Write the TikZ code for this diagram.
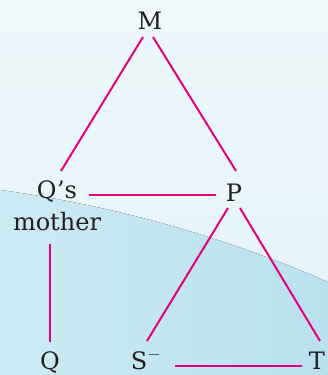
\documentclass[tikz,border=0pt]{standalone}
\usepackage{fontspec}
\setmainfont{DejaVu Serif}
\usepackage{tikz}
\usetikzlibrary{positioning}
\definecolor{LinkPink}{HTML}{E5007D}
\definecolor{BgTop}{HTML}{EEF8FB}
\definecolor{BgTopB}{HTML}{E3F2F8}
\definecolor{BgLow}{HTML}{CDEAF3}
\definecolor{BgLowR}{HTML}{B9E1ED}
\definecolor{TextDark}{HTML}{231F20}

\begin{document}
\begin{tikzpicture}[
    x=1pt, y=-1pt,
    person/.style={
      inner sep=0pt,
      anchor=base,
      text=TextDark,
      font=\fontsize{24}{32}\selectfont
    },
    link/.style={
      line width=2pt,
      LinkPink
    }
  ]

  % background
  \fill[top color=BgTop, bottom color=BgTopB] (0,0) rectangle (328,375);
  \fill[left color=BgLow, right color=BgLowR]
    (0,190) .. controls (110,205) and (220,235) .. (328,282)
    -- (328,375) -- (0,375) -- cycle;
  \useasboundingbox (0,0) rectangle (328,375);

  % family members
  \node[person] (M) at (150,29) {M};
  \node[person, anchor=north, align=center] (Qs) at (57,180) {Q’s\\mother};
  \node[person] (P) at (234,201) {P};
  \node[person] (Q) at (50,369) {Q};
  \node[person] (S) at (146,369) {S$^{-}$};
  \node[person] (T) at (317,369) {T};

  % relations
  \draw[link] ([shift={(-7,8)}]M.base) -- ([shift={(4,-9)}]Qs.north);
  \draw[link] ([shift={(3,8)}]M.base) -- ([shift={(2,-30)}]P.base);
  \draw[link] ([shift={(32,15)}]Qs.north) -- ([shift={(-18,-6)}]P.base);
  \draw[link] ([shift={(-7,13)}]Qs.south) -- ([shift={(0,-27)}]Q.base);
  \draw[link] ([shift={(-6,7)}]P.base) -- ([shift={(1,-28)}]S.base);
  \draw[link] ([shift={(6,7)}]P.base) -- ([shift={(3,-28)}]T.base);
  \draw[link] ([shift={(29,-3)}]S.base) -- ([shift={(-15,-3)}]T.base);

\end{tikzpicture}
\end{document}
